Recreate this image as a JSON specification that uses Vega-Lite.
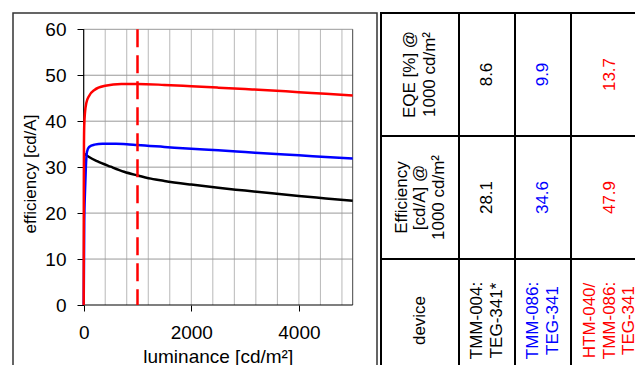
{
  "$schema": "https://vega.github.io/schema/vega-lite/v6.json",
  "padding": {"left": 12, "top": 12, "right": 0, "bottom": 0},
  "background": "white",
  "spacing": 4,
  "bounds": "flush",
  "config": {"view": {"stroke": null}, "font": "Liberation Sans"},
  "datasets": {
    "curves": [
      {"device": "TMM-004: TEG-341*", "L": 10, "E": 32.9},
      {"device": "TMM-004: TEG-341*", "L": 100, "E": 32.2},
      {"device": "TMM-004: TEG-341*", "L": 250, "E": 31.3},
      {"device": "TMM-004: TEG-341*", "L": 500, "E": 30.1},
      {"device": "TMM-004: TEG-341*", "L": 750, "E": 29.0},
      {"device": "TMM-004: TEG-341*", "L": 1000, "E": 28.2},
      {"device": "TMM-004: TEG-341*", "L": 1250, "E": 27.5},
      {"device": "TMM-004: TEG-341*", "L": 1500, "E": 27.0},
      {"device": "TMM-004: TEG-341*", "L": 2000, "E": 26.2},
      {"device": "TMM-004: TEG-341*", "L": 2500, "E": 25.5},
      {"device": "TMM-004: TEG-341*", "L": 3000, "E": 24.9},
      {"device": "TMM-004: TEG-341*", "L": 3500, "E": 24.3},
      {"device": "TMM-004: TEG-341*", "L": 4000, "E": 23.7},
      {"device": "TMM-004: TEG-341*", "L": 4500, "E": 23.2},
      {"device": "TMM-004: TEG-341*", "L": 5000, "E": 22.7},
      {"device": "TMM-086: TEG-341", "L": 0, "E": 0},
      {"device": "TMM-086: TEG-341", "L": 10, "E": 18},
      {"device": "TMM-086: TEG-341", "L": 25, "E": 25},
      {"device": "TMM-086: TEG-341", "L": 40, "E": 30},
      {"device": "TMM-086: TEG-341", "L": 60, "E": 33.3},
      {"device": "TMM-086: TEG-341", "L": 100, "E": 34.4},
      {"device": "TMM-086: TEG-341", "L": 200, "E": 34.9},
      {"device": "TMM-086: TEG-341", "L": 350, "E": 35.1},
      {"device": "TMM-086: TEG-341", "L": 600, "E": 35.1},
      {"device": "TMM-086: TEG-341", "L": 800, "E": 35.0},
      {"device": "TMM-086: TEG-341", "L": 1000, "E": 34.8},
      {"device": "TMM-086: TEG-341", "L": 1500, "E": 34.4},
      {"device": "TMM-086: TEG-341", "L": 2000, "E": 34.0},
      {"device": "TMM-086: TEG-341", "L": 2500, "E": 33.7},
      {"device": "TMM-086: TEG-341", "L": 3000, "E": 33.3},
      {"device": "TMM-086: TEG-341", "L": 3500, "E": 32.9},
      {"device": "TMM-086: TEG-341", "L": 4000, "E": 32.6},
      {"device": "TMM-086: TEG-341", "L": 4500, "E": 32.2},
      {"device": "TMM-086: TEG-341", "L": 5000, "E": 31.9},
      {"device": "HTM-040/TMM-086: TEG-341", "L": 0, "E": 0},
      {"device": "HTM-040/TMM-086: TEG-341", "L": 2, "E": 25},
      {"device": "HTM-040/TMM-086: TEG-341", "L": 5, "E": 35},
      {"device": "HTM-040/TMM-086: TEG-341", "L": 10, "E": 39},
      {"device": "HTM-040/TMM-086: TEG-341", "L": 25, "E": 42},
      {"device": "HTM-040/TMM-086: TEG-341", "L": 50, "E": 44},
      {"device": "HTM-040/TMM-086: TEG-341", "L": 100, "E": 45.5},
      {"device": "HTM-040/TMM-086: TEG-341", "L": 200, "E": 46.8},
      {"device": "HTM-040/TMM-086: TEG-341", "L": 400, "E": 47.7},
      {"device": "HTM-040/TMM-086: TEG-341", "L": 700, "E": 48.1},
      {"device": "HTM-040/TMM-086: TEG-341", "L": 1000, "E": 48.1},
      {"device": "HTM-040/TMM-086: TEG-341", "L": 1500, "E": 47.9},
      {"device": "HTM-040/TMM-086: TEG-341", "L": 2000, "E": 47.6},
      {"device": "HTM-040/TMM-086: TEG-341", "L": 2500, "E": 47.3},
      {"device": "HTM-040/TMM-086: TEG-341", "L": 3000, "E": 47.0},
      {"device": "HTM-040/TMM-086: TEG-341", "L": 3500, "E": 46.7},
      {"device": "HTM-040/TMM-086: TEG-341", "L": 4000, "E": 46.3},
      {"device": "HTM-040/TMM-086: TEG-341", "L": 4500, "E": 46.0},
      {"device": "HTM-040/TMM-086: TEG-341", "L": 5000, "E": 45.6}
    ],
    "gridx": [{"v": 400}, {"v": 800}, {"v": 1200}, {"v": 1600}, {"v": 2000}, {"v": 2400}, {"v": 2800}, {"v": 3200}, {"v": 3600}, {"v": 4000}, {"v": 4400}, {"v": 4800}],
    "gridy": [{"v": 10}, {"v": 20}, {"v": 30}, {"v": 40}, {"v": 50}, {"v": 60}]
  },
  "hconcat": [
    {
      "width": 364,
      "height": 372,
      "view": {"stroke": "#333333", "strokeWidth": 1.5},
      "layer": [
        {
          "data": {"name": "gridx"},
          "mark": {"type": "rule", "color": "#b8b8b8", "strokeWidth": 1},
          "encoding": {
            "x": {
              "field": "v", "type": "quantitative",
              "scale": {"domain": [-1314.1, 5451.7], "nice": false, "zero": false},
              "axis": {
                "orient": "bottom", "offset": -80, "values": [0, 2000, 4000], "format": "d",
                "domain": false, "grid": false, "ticks": true, "tickSize": 6, "tickColor": "#000000",
                "labelPadding": 12, "labelFontSize": 19, "labelColor": "#000000", "labelFlush": false,
                "labelFont": "Liberation Sans",
                "title": "luminance [cd/m²]", "titleFont": "Liberation Sans", "titleFontSize": 19,
                "titleFontWeight": "normal", "titleColor": "#000000",
                "titleX": 204.7, "titleY": 57.5, "titleBaseline": "alphabetic", "titleAlign": "center"
              }
            },
            "y": {
              "datum": 0, "type": "quantitative",
              "scale": {"domain": [-17.41, 63.547], "nice": false, "zero": false},
              "axis": {
                "orient": "left", "offset": -70.7, "values": [0, 10, 20, 30, 40, 50, 60],
                "domain": false, "grid": false, "ticks": true, "tickSize": 6.7, "tickColor": "#000000",
                "labelPadding": 11, "labelFontSize": 19, "labelColor": "#000000", "labelFlush": false,
                "labelFont": "Liberation Sans",
                "title": "efficiency [cd/A]", "titleFont": "Liberation Sans", "titleFontSize": 17,
                "titleFontWeight": "normal", "titleColor": "#000000",
                "titleX": -53.5, "titleY": 160.5, "titleBaseline": "middle", "titleAngle": 270, "titleAlign": "center"
              }
            },
            "y2": {"datum": 60}
          }
        },
        {
          "data": {"name": "gridy"},
          "mark": {"type": "rule", "color": "#999999", "strokeWidth": 1},
          "encoding": {
            "y": {"field": "v", "type": "quantitative"},
            "x": {"datum": 0, "type": "quantitative"},
            "x2": {"datum": 5000}
          }
        },
        {
          "data": {"values": [{"edge": "right"}]},
          "mark": {"type": "rule", "color": "#444444", "strokeWidth": 1},
          "encoding": {
            "x": {"datum": 5000, "type": "quantitative"},
            "y": {"datum": 0, "type": "quantitative"},
            "y2": {"datum": 60}
          }
        },
        {
          "data": {"values": [{"edge": "left"}]},
          "mark": {"type": "rule", "color": "#000000", "strokeWidth": 1.2},
          "encoding": {
            "x": {"datum": 0, "type": "quantitative"},
            "y": {"datum": 0, "type": "quantitative"},
            "y2": {"datum": 60}
          }
        },
        {
          "data": {"values": [{"edge": "bottom"}]},
          "mark": {"type": "rule", "color": "#000000", "strokeWidth": 1.2},
          "encoding": {
            "y": {"datum": 0, "type": "quantitative"},
            "x": {"datum": 0, "type": "quantitative"},
            "x2": {"datum": 5000}
          }
        },
        {
          "data": {"name": "curves"},
          "mark": {"type": "line", "strokeWidth": 2.5, "interpolate": "monotone"},
          "encoding": {
            "x": {"field": "L", "type": "quantitative"},
            "y": {"field": "E", "type": "quantitative"},
            "color": {
              "field": "device", "type": "nominal", "legend": null,
              "scale": {
                "domain": ["TMM-004: TEG-341*", "TMM-086: TEG-341", "HTM-040/TMM-086: TEG-341"],
                "range": ["#000000", "#0000ff", "#ff0000"]
              }
            }
          }
        },
        {
          "data": {"values": [{"mark": "1000 cd/m²"}]},
          "mark": {"type": "rule", "color": "#ff0000", "strokeWidth": 2.5, "strokeDash": [18, 8]},
          "encoding": {
            "x": {"datum": 1000, "type": "quantitative"},
            "y": {"datum": 60, "type": "quantitative"},
            "y2": {"datum": 0}
          }
        }
      ]
    },
    {
      "spacing": 0,
      "bounds": "flush",
      "hconcat": [
        {
          "width": 78, "height": 369,
          "data": {"values": [
            {"row": "EQE", "t": "EQE [%] @\n1000 cd/m²"},
            {"row": "Efficiency", "t": "Efficiency\n[cd/A] @\n1000 cd/m²"},
            {"row": "device", "t": "device"}
          ]},
          "layer": [
            {"mark": {"type": "rect", "fill": "white", "stroke": "black", "strokeWidth": 2},
             "encoding": {"y": {"field": "row", "type": "nominal", "sort": null, "axis": null, "scale": {"paddingInner": 0, "paddingOuter": 0}}}},
            {"transform": [{"filter": "length(split(datum.t, '\\n')) == 1"}],
             "mark": {"type": "text", "angle": 270, "fontSize": 17, "lineBreak": "\n", "lineHeight": 19.5, "color": "black", "align": "center", "baseline": "middle"},
             "encoding": {"y": {"field": "row", "type": "nominal", "sort": null, "axis": null}, "text": {"field": "t"}}},
            {"transform": [{"filter": "length(split(datum.t, '\\n')) == 2"}],
             "mark": {"type": "text", "angle": 270, "fontSize": 17, "lineBreak": "\n", "lineHeight": 19.5, "dy": -9.75, "color": "black", "align": "center", "baseline": "middle"},
             "encoding": {"y": {"field": "row", "type": "nominal", "sort": null, "axis": null}, "text": {"field": "t"}}},
            {"transform": [{"filter": "length(split(datum.t, '\\n')) == 3"}],
             "mark": {"type": "text", "angle": 270, "fontSize": 17, "lineBreak": "\n", "lineHeight": 18.5, "dy": -18.5, "color": "black", "align": "center", "baseline": "middle"},
             "encoding": {"y": {"field": "row", "type": "nominal", "sort": null, "axis": null}, "text": {"field": "t"}}}
          ]
        },
        {
          "width": 56, "height": 369,
          "data": {"values": [
            {"row": "EQE", "t": "8.6"},
            {"row": "Efficiency", "t": "28.1"},
            {"row": "device", "t": "TMM-004:\nTEG-341*"}
          ]},
          "layer": [
            {"mark": {"type": "rect", "fill": "white", "stroke": "black", "strokeWidth": 2},
             "encoding": {"y": {"field": "row", "type": "nominal", "sort": null, "axis": null, "scale": {"paddingInner": 0, "paddingOuter": 0}}}},
            {"transform": [{"filter": "length(split(datum.t, '\\n')) == 1"}],
             "mark": {"type": "text", "angle": 270, "fontSize": 17, "lineBreak": "\n", "lineHeight": 19.5, "color": "black", "align": "center", "baseline": "middle"},
             "encoding": {"y": {"field": "row", "type": "nominal", "sort": null, "axis": null}, "text": {"field": "t"}}},
            {"transform": [{"filter": "length(split(datum.t, '\\n')) == 2"}],
             "mark": {"type": "text", "angle": 270, "fontSize": 17, "lineBreak": "\n", "lineHeight": 19.5, "dy": -9.75, "color": "black", "align": "center", "baseline": "middle"},
             "encoding": {"y": {"field": "row", "type": "nominal", "sort": null, "axis": null}, "text": {"field": "t"}}}
          ]
        },
        {
          "width": 56, "height": 369,
          "data": {"values": [
            {"row": "EQE", "t": "9.9"},
            {"row": "Efficiency", "t": "34.6"},
            {"row": "device", "t": "TMM-086:\nTEG-341"}
          ]},
          "layer": [
            {"mark": {"type": "rect", "fill": "white", "stroke": "black", "strokeWidth": 2},
             "encoding": {"y": {"field": "row", "type": "nominal", "sort": null, "axis": null, "scale": {"paddingInner": 0, "paddingOuter": 0}}}},
            {"transform": [{"filter": "length(split(datum.t, '\\n')) == 1"}],
             "mark": {"type": "text", "angle": 270, "fontSize": 17, "lineBreak": "\n", "lineHeight": 19.5, "color": "#0000ff", "align": "center", "baseline": "middle"},
             "encoding": {"y": {"field": "row", "type": "nominal", "sort": null, "axis": null}, "text": {"field": "t"}}},
            {"transform": [{"filter": "length(split(datum.t, '\\n')) == 2"}],
             "mark": {"type": "text", "angle": 270, "fontSize": 17, "lineBreak": "\n", "lineHeight": 19.5, "dy": -9.75, "color": "#0000ff", "align": "center", "baseline": "middle"},
             "encoding": {"y": {"field": "row", "type": "nominal", "sort": null, "axis": null}, "text": {"field": "t"}}}
          ]
        },
        {
          "width": 77, "height": 369,
          "data": {"values": [
            {"row": "EQE", "t": "13.7"},
            {"row": "Efficiency", "t": "47.9"},
            {"row": "device", "t": "HTM-040/\nTMM-086:\nTEG-341"}
          ]},
          "layer": [
            {"mark": {"type": "rect", "fill": "white", "stroke": "black", "strokeWidth": 2},
             "encoding": {"y": {"field": "row", "type": "nominal", "sort": null, "axis": null, "scale": {"paddingInner": 0, "paddingOuter": 0}}}},
            {"transform": [{"filter": "length(split(datum.t, '\\n')) == 1"}],
             "mark": {"type": "text", "angle": 270, "fontSize": 17, "lineBreak": "\n", "lineHeight": 19.5, "color": "#ff0000", "align": "center", "baseline": "middle"},
             "encoding": {"y": {"field": "row", "type": "nominal", "sort": null, "axis": null}, "text": {"field": "t"}}},
            {"transform": [{"filter": "length(split(datum.t, '\\n')) == 3"}],
             "mark": {"type": "text", "angle": 270, "fontSize": 17, "lineBreak": "\n", "lineHeight": 19.5, "dy": -19.5, "color": "#ff0000", "align": "center", "baseline": "middle"},
             "encoding": {"y": {"field": "row", "type": "nominal", "sort": null, "axis": null}, "text": {"field": "t"}}}
          ]
        }
      ]
    }
  ]
}
